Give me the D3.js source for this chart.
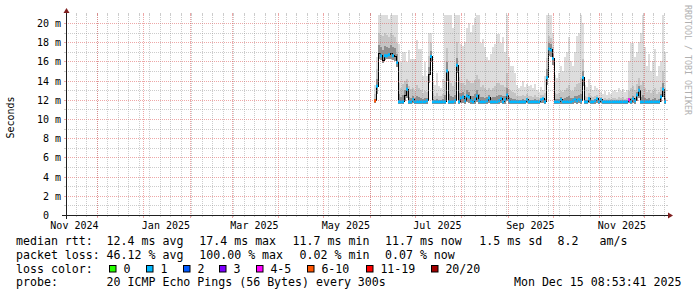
<!DOCTYPE html>
<html><head><meta charset="utf-8">
<script src="https://cdnjs.cloudflare.com/ajax/libs/d3/7.8.5/d3.min.js"></script>
<style>
html,body{margin:0;padding:0;background:#fff}
text{font-family:"DejaVu Sans Mono",monospace;white-space:pre}
</style>
</head><body><svg id="c" width="697" height="297"></svg>
<script>
// ---------- data ----------
const graphStart = "2024-11-10T08:53:41Z";
const graphEnd   = "2025-12-15T08:53:41Z";
const firstSample = "2025-06-03T16:53:41Z";
const stepHours = 32;
const yMax = 20.8333; // ms

const median = [
 11.9,13.4,16.8,16.6,16.1,16.6,16.6,16.7,16.8,16.6,16.5,15.9,11.8,11.8,11.8,12.5,13.1,11.8,11.8,12.0,
 11.8,11.8,11.8,11.8,11.8,11.8,11.9,14.6,16.5,11.8,11.8,11.8,11.8,11.8,11.8,11.8,15.0,11.8,11.8,11.8,
 11.9,15.6,11.8,12.2,12.3,11.9,12.4,12.3,11.9,11.8,12.0,12.4,11.9,11.8,11.8,11.8,11.9,12.2,11.8,11.8,
 11.8,11.8,11.9,12.1,11.8,12.0,12.5,11.9,11.8,11.8,11.8,11.8,11.8,11.8,11.8,11.8,12.0,11.8,11.8,11.8,
 11.8,11.8,11.8,12.0,12.1,11.8,14.3,17.3,17.2,16.3,11.8,11.8,11.8,12.0,11.8,11.8,11.8,11.8,11.8,11.9,
 12.0,11.9,12.0,11.9,14.3,11.8,11.8,12.1,11.8,11.8,11.9,12.1,11.8,12.0,11.8,11.8,11.8,11.8,11.8,11.8,
 11.8,11.8,11.8,11.8,11.8,11.8,11.8,12.0,11.8,12.1,11.9,12.5,13.0,11.8,11.8,11.8,11.8,11.8,11.8,11.8,
 11.8,11.8,11.8,12.3,13.1,11.8];
const pingMax = [
 13.5,16.5,21,21,21,21,21,20.4,21,21,21,21,17.8,15.9,17.0,17.0,15.9,17.2,16.3,16.3,
 16.3,18.2,17.3,17.3,14.5,15.9,14.5,19.0,19.0,14.0,13.5,14.8,13.4,13.2,14.2,21,21,21,21,19.5,
 21,21,21,17.8,17.6,18.0,19.5,20.0,19.1,19.8,20.5,21,21,17.9,18.3,17.5,16.5,16.1,16.8,17.5,
 17.8,18.9,18.9,17.9,18.5,17.0,21,16.5,15.5,15.5,14.8,13.5,13.2,13.4,14.0,13.3,13.6,13.4,13.5,13.2,
 13.6,13.0,12.8,13.3,13.0,14.5,21,21,21,19.0,14.6,14.3,14.8,15.5,15.0,16.5,17.0,18.5,16.0,15.5,
 17.0,18.6,19.0,21,20.0,13.5,13.3,14.2,13.5,13.0,13.4,13.2,13.0,12.8,12.6,12.9,12.5,12.8,12.6,12.9,
 13.0,12.8,13.2,12.9,13.1,12.8,13.0,16.0,17.9,17.9,16.5,17.0,18.0,19.0,21,17.5,15.5,16.8,15.0,16.0,
 17.3,14.5,15.5,16.0,21,17.0];
const ping90 = [
 12.6,15.2,19.0,18.8,18.6,19.0,18.8,18.5,19.0,18.7,18.5,17.9,13.8,13.2,13.6,14.0,14.2,13.4,13.1,13.2,
 12.9,13.5,13.2,13.0,12.7,12.9,12.8,16.6,17.9,12.6,12.4,12.7,12.4,12.4,12.6,14.0,17.4,14.2,13.8,13.4,
 13.9,18.0,14.4,13.7,13.8,13.5,14.2,14.0,13.7,13.8,14.1,14.6,14.2,13.3,13.5,13.2,13.0,13.2,13.0,13.2,
 13.4,13.7,13.8,13.5,13.5,13.3,14.8,13.1,12.9,12.8,12.7,12.4,12.4,12.4,12.5,12.4,12.6,12.4,12.4,12.3,
 12.5,12.3,12.2,12.5,12.5,12.7,16.4,18.6,18.4,17.5,12.7,12.6,12.7,12.9,12.8,13.0,13.2,13.5,12.9,12.9,
 13.3,13.6,13.8,14.3,16.2,12.4,12.3,12.7,12.4,12.3,12.4,12.5,12.3,12.3,12.1,12.2,12.1,12.2,12.1,12.2,
 12.2,12.1,12.3,12.2,12.3,12.1,12.2,12.9,13.2,13.4,13.0,13.6,14.3,13.5,14.0,13.2,12.8,13.0,12.7,12.9,
 13.2,12.6,12.8,13.3,15.0,13.2];
const ping75 = [
 12.1,14.2,17.7,17.5,17.2,17.6,17.5,17.4,17.7,17.5,17.4,16.8,12.6,12.3,12.5,13.0,13.6,12.3,12.2,12.4,
 12.2,12.4,12.3,12.2,12.1,12.2,12.2,15.4,17.1,12.1,12.0,12.1,12.0,12.0,12.1,12.5,15.9,12.6,12.4,12.3,
 12.5,16.4,12.7,12.7,12.8,12.4,13.0,12.8,12.4,12.4,12.6,13.0,12.6,12.3,12.3,12.2,12.3,12.5,12.2,12.3,
 12.3,12.4,12.5,12.5,12.4,12.4,13.2,12.3,12.2,12.1,12.1,12.0,12.0,12.0,12.1,12.0,12.2,12.0,12.0,12.0,
 12.1,12.0,11.9,12.1,12.2,12.1,15.2,17.9,17.8,16.8,12.1,12.1,12.1,12.3,12.1,12.2,12.3,12.4,12.2,12.2,
 12.4,12.4,12.5,12.6,15.0,12.0,12.0,12.3,12.0,11.9,12.1,12.2,12.0,12.1,11.9,11.9,11.9,11.9,11.9,11.9,
 11.9,11.9,11.9,11.9,11.9,11.9,11.9,12.2,12.2,12.4,12.2,12.8,13.4,12.3,12.5,12.2,12.1,12.2,12.0,12.1,
 12.2,12.0,12.1,12.6,13.8,12.2];
const pingMin = [
 11.7,12.6,16.2,16.1,15.8,16.1,16.2,16.2,16.2,16.1,16.0,15.4,11.6,11.6,11.6,11.9,12.2,11.6,11.6,11.7,
 11.6,11.6,11.6,11.6,11.6,11.6,11.6,13.8,15.9,11.6,11.6,11.6,11.6,11.6,11.6,11.6,14.0,11.6,11.6,11.6,
 11.6,14.8,11.6,11.7,11.7,11.6,11.8,11.7,11.6,11.6,11.6,11.8,11.6,11.6,11.6,11.6,11.6,11.7,11.6,11.6,
 11.6,11.6,11.6,11.7,11.6,11.6,11.9,11.6,11.6,11.6,11.6,11.6,11.6,11.6,11.6,11.6,11.7,11.6,11.6,11.6,
 11.6,11.6,11.6,11.7,11.7,11.6,13.5,16.6,16.5,15.6,11.6,11.6,11.6,11.6,11.6,11.6,11.6,11.6,11.6,11.6,
 11.7,11.6,11.7,11.6,13.4,11.6,11.6,11.7,11.6,11.6,11.6,11.7,11.6,11.7,11.6,11.6,11.6,11.6,11.6,11.6,
 11.6,11.6,11.6,11.6,11.6,11.6,11.6,11.7,11.6,11.7,11.6,11.9,12.2,11.6,11.6,11.6,11.6,11.6,11.6,11.6,
 11.6,11.6,11.6,11.8,12.3,11.6];
// lost pings out of 20 per sample; null = median drawn without a loss colour
const lossPings = [
 7,1,null,1,null,1,1,1,null,1,null,1,1,1,1,null,1,1,1,1,
 1,1,1,1,1,1,1,null,1,1,1,1,1,1,1,1,1,1,1,1,
 1,1,1,1,1,1,1,1,1,1,1,1,1,1,1,1,1,1,1,1,
 1,1,1,1,1,1,1,1,1,1,1,1,1,1,1,1,1,1,1,1,
 1,1,1,1,1,1,1,1,1,1,1,1,1,1,1,1,1,1,1,1,
 1,1,1,1,1,1,1,1,1,1,1,1,1,1,1,1,1,1,1,1,
 1,1,1,1,1,1,1,4,1,1,1,1,1,1,1,1,1,1,1,1,
 1,1,1,1,1,1];

const yTicks = [0,2,4,6,8,10,12,14,16,18,20];
const yTickLabels = ["0","2 m","4 m","6 m","8 m","10 m","12 m","14 m","16 m","18 m","20 m"];
const xLabelMonths = ["2024-11-01","2025-01-01","2025-03-01","2025-05-01","2025-07-01","2025-09-01","2025-11-01"];
const xLabels = ["Nov 2024","Jan 2025","Mar 2025","May 2025","Jul 2025","Sep 2025","Nov 2025"];
const yTitle = "Seconds";
const watermark = "RRDTOOL / TOBI OETIKER";

const lossLabels = ["0","1","2","3","4-5","6-10","11-19","20/20"];
const lossColors = ["#26ff00","#00b8ff","#0059ff","#7e00ff","#ff00ff","#ff5500","#ff0000","#a10000"];
const lossUpper  = [0,1,2,3,5,10,19,20];

const rttRow  = ["median rtt:","12.4 ms avg","17.4 ms max","11.7 ms min","11.7 ms now","1.5 ms sd","8.2   am/s"];
const lossRow = ["packet loss:","46.12 % avg","100.00 % max"," 0.02 % min","0.07 % now"];
const lossColorTitle = "loss color:";
const probeRow = ["probe:","20 ICMP Echo Pings (56 Bytes) every 300s"];
const stamp = "Mon Dec 15 08:53:41 2025";

// ---------- layout ----------
const X0 = 66, X1 = 666, Y0 = 215, Y1 = 15;
const svg = d3.select("#c");
const x = d3.scaleUtc().domain([new Date(graphStart), new Date(graphEnd)]).range([X0, X1]);
const y = d3.scaleLinear().domain([0, yMax]).range([Y0, Y1]);
const t0 = new Date(firstSample).getTime();
const stepMs = stepHours * 3600e3;
const tAt = i => new Date(t0 + i * stepMs);

svg.append("rect").attr("width",697).attr("height",297).attr("fill","#fff");
svg.append("defs").append("clipPath").attr("id","pc")
  .append("rect").attr("x",X0).attr("y",Y1).attr("width",X1-X0).attr("height",Y0-Y1);

const plot = svg.append("g").attr("clip-path","url(#pc)");
const idx = d3.range(median.length + 1);
const val = (arr,i) => arr[Math.min(i, arr.length-1)];

function band(lo, hi, color){
  const a = d3.area().curve(d3.curveStepAfter)
    .x(i => x(tAt(i))).y0(i => y(val(lo,i))).y1(i => y(val(hi,i)));
  plot.append("path").attr("d", a(idx)).attr("fill", color).attr("shape-rendering","crispEdges");
}
band(pingMin, pingMax, "#dddddd");
band(pingMin, ping90, "#c4c4c4");
band(pingMin, ping75, "#8e8e8e");

// median black line
const ln = d3.line().curve(d3.curveStepAfter).x(i => x(tAt(i))).y(i => y(val(median,i)));
plot.append("path").attr("d", ln(idx)).attr("fill","none").attr("stroke","#000")
  .attr("stroke-width",1).attr("shape-rendering","crispEdges");

// loss-coloured median
function bucket(l){ for (let k=0;k<lossUpper.length;k++) if (l <= lossUpper[k]) return k; return lossUpper.length-1; }
median.forEach((m,i) => {
  if (lossPings[i] == null) return;
  const yy = y(m);
  plot.append("line").attr("x1", x(tAt(i))).attr("x2", x(tAt(i+1)))
    .attr("y1", yy).attr("y2", yy)
    .attr("stroke", lossColors[bucket(lossPings[i])]).attr("stroke-width",3);
});

// grid (drawn over the graph, semi transparent)
const grid = svg.append("g").attr("shape-rendering","crispEdges");
const minorC = "rgba(143,143,143,0.45)", majorC = "rgba(222,80,80,0.5)";
for (let v = 1; v <= 20; v++) {
  const yy = Math.round(y(v)) + 0.5;
  const c = v % 2 === 0 ? majorC : minorC;
  grid.append("line").attr("x1",X0).attr("x2",X1).attr("y1",yy).attr("y2",yy)
    .attr("stroke",c).attr("stroke-dasharray","1,1");
  grid.append("line").attr("x1",X0-2).attr("x2",X0).attr("y1",yy).attr("y2",yy).attr("stroke",c);
  grid.append("line").attr("x1",X1).attr("x2",X1+2).attr("y1",yy).attr("y2",yy).attr("stroke",c);
}
const dom = x.domain();
const weeks = d3.utcSunday.range(dom[0], dom[1]);
const months = d3.utcMonth.range(dom[0], dom[1]);
weeks.forEach(d => {
  const xx = Math.round(x(d)) + 0.5;
  grid.append("line").attr("x1",xx).attr("x2",xx).attr("y1",Y1).attr("y2",Y0)
    .attr("stroke",minorC).attr("stroke-dasharray","1,1");
  grid.append("line").attr("x1",xx).attr("x2",xx).attr("y1",Y0).attr("y2",Y0+2).attr("stroke",minorC);
  grid.append("line").attr("x1",xx).attr("x2",xx).attr("y1",Y1-2).attr("y2",Y1).attr("stroke",minorC);
});
months.forEach(d => {
  const xx = Math.round(x(d)) + 0.5;
  grid.append("line").attr("x1",xx).attr("x2",xx).attr("y1",Y1).attr("y2",Y0)
    .attr("stroke",majorC).attr("stroke-dasharray","1,1");
  grid.append("line").attr("x1",xx).attr("x2",xx).attr("y1",Y0).attr("y2",Y0+3).attr("stroke",majorC);
  grid.append("line").attr("x1",xx).attr("x2",xx).attr("y1",Y1-2).attr("y2",Y1).attr("stroke",majorC);
});

// axes
const axisC = "#1f1f1f", arrowC = "#7f1f1f";
svg.append("line").attr("x1",X0-4).attr("x2",X1+4).attr("y1",Y0+0.5).attr("y2",Y0+0.5)
  .attr("stroke",axisC).attr("shape-rendering","crispEdges");
svg.append("line").attr("x1",X0+0.5).attr("x2",X0+0.5).attr("y1",Y0+4).attr("y2",Y1-4)
  .attr("stroke",axisC).attr("shape-rendering","crispEdges");
svg.append("path").attr("d",`M${X1+2},${Y0-2.5}L${X1+2},${Y0+3.5}L${X1+7},${Y0+0.5}Z`).attr("fill",arrowC);
svg.append("path").attr("d",`M${X0-2.5},${Y1-2}L${X0+3.5},${Y1-2}L${X0+0.5},${Y1-7}Z`).attr("fill",arrowC);

// y labels
yTicks.forEach((v,k) => {
  const yy = Math.round(y(v)) + 0.5;
  const lbl = yTickLabels[k];
  svg.append("text").attr("x", v===0 ? 49 : 61).attr("y", yy).attr("dy","0.36em")
    .attr("text-anchor","end").attr("font-size","10px").attr("fill","#000").text(lbl);
});
// x labels (centred half a month after the month start, like rrdtool)
xLabelMonths.forEach((m,k) => {
  const d = new Date(new Date(m + "T00:00:00Z").getTime() + 15*86400e3);
  svg.append("text").attr("x", x(d)).attr("y", 228.5).attr("text-anchor","middle")
    .attr("font-size","10px").attr("fill","#000").text(xLabels[k]);
});
// y title
svg.append("text").attr("transform","translate(13.8,117.5) rotate(-90)").attr("text-anchor","middle")
  .attr("font-size","10px").attr("fill","#000").text(yTitle);
// watermark
svg.append("text").attr("transform","translate(684.5,60) rotate(90)").attr("text-anchor","middle")
  .attr("font-size","8.3px").attr("fill","#b0b0b0").text(watermark);

// legend
const LF = "11.6px";
const colX = [16, 106.6, 199.3, 292.6, 385, 479.3, 557.6];
function row(items, yy){
  items.forEach((s,k) => svg.append("text").attr("x",colX[k]).attr("y",yy)
    .attr("font-size",LF).attr("fill","#000").text(s));
}
row(rttRow, 245);
row(lossRow, 258.7);
svg.append("text").attr("x",colX[0]).attr("y",272.5).attr("font-size",LF).text(lossColorTitle);
const boxX = [109,146,183,219,256,307,366,431];
lossLabels.forEach((l,k) => {
  svg.append("rect").attr("x",boxX[k]+0.5).attr("y",265.5).attr("width",6.5).attr("height",6.5)
    .attr("fill",lossColors[k]).attr("stroke","#000").attr("stroke-width",1);
  svg.append("text").attr("x",boxX[k]+14.4).attr("y",272.5).attr("font-size",LF).text(l);
});
row(probeRow, 286.3);
svg.append("text").attr("x",681.5).attr("y",286.3).attr("text-anchor","end").attr("font-size",LF).text(stamp);
</script></body></html>
